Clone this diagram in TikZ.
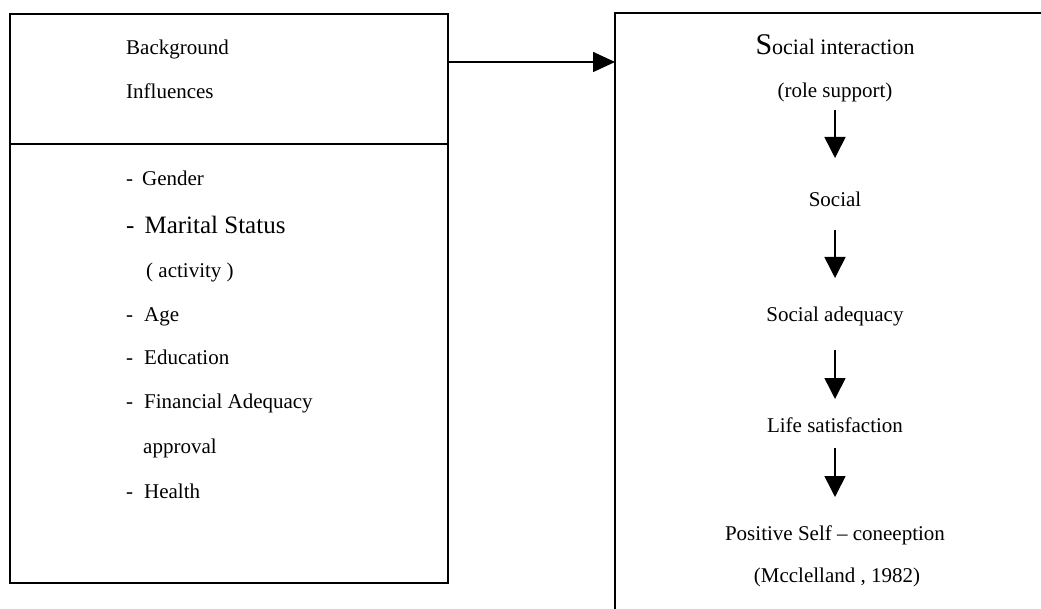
\documentclass[tikz,border=0pt]{standalone}
\usepackage{fontspec}
\setmainfont{Liberation Serif}
\usetikzlibrary{arrows.meta}
\newcommand{\fs}[1]{\fontsize{#1}{#1}\selectfont}
\tikzset{
  frame/.style={draw, line width=1.6pt, inner sep=0pt, outer sep=0pt},
  item/.style={anchor=base west, inner sep=0pt, font=\fs{21}},
  stage/.style={anchor=base, inner sep=0pt, font=\fs{21}},
  flow/.style={line width=1.6pt, -{Triangle[length=21pt,width=21pt]}},
  link/.style={line width=1.6pt, -{Triangle[length=22pt,width=20pt]}}
}
\begin{document}
\begin{tikzpicture}[x=1pt,y=-1pt]
\useasboundingbox (0,0) rectangle (1041,609);
\clip (0,0) rectangle (1041,609);

% left panel: heading box and factor list box
\node[frame, anchor=north west, minimum width=438pt, minimum height=130pt] (bghead) at (10,14) {};
\node[frame, anchor=north west, minimum width=438pt, minimum height=439pt] (factors) at (bghead.south west) {};

% right panel (runs off the page edges)
\node[frame, anchor=north west, minimum width=460pt, minimum height=630pt] (chain) at (615,13) {};

% heading text
\node[item] (h1) at (126,55) {Background};
\node[item] (h2) at (126,99) {Influences};

% factor list
\node[item] (f1) at (126,186) {-\hspace{9pt}Gender};
\node[item, font=\fs{25}] (f2) at (126,234) {-\hspace{10pt}Marital Status};
\node[item] (f3) at (146,278) {( activity )};
\node[item] (f4) at (126,322) {-\hspace{11pt}Age};
\node[item] (f5) at (126,365) {-\hspace{11pt}Education};
\node[item] (f6) at (126,408) {-\hspace{11pt}Financial Adequacy};
\node[item] (f7) at (143,453) {approval};
\node[item] (f8) at (126,498) {-\hspace{11pt}Health};

% chain of stages
\node[stage] (s1) at (835,55) {{\fs{30}S}{\fs{22}ocial interaction}};
\node[stage] (s2) at (835,98) {(role support)};
\node[stage] (s3) at (835,207) {Social};
\node[stage] (s4) at (835,322) {Social adequacy};
\node[stage] (s5) at (835,432) {Life satisfaction};
\node[stage] (s6) at (835,540) {Positive Self -- coneeption};
\node[stage] (s7) at (837,582) {(Mcclelland , 1982)};

% connectors
\draw[link] (bghead.east |- 0,62) -- (chain.west |- 0,62);
\draw[flow] ([yshift=-12pt]s2.base) -- ([yshift=49pt]s3.base);
\draw[flow] ([yshift=-23pt]s3.base) -- ([yshift=44pt]s4.base);
\draw[flow] ([yshift=-28pt]s4.base) -- ([yshift=33pt]s5.base);
\draw[flow] ([yshift=-16pt]s5.base) -- ([yshift=43pt]s6.base);
\end{tikzpicture}
\end{document}
